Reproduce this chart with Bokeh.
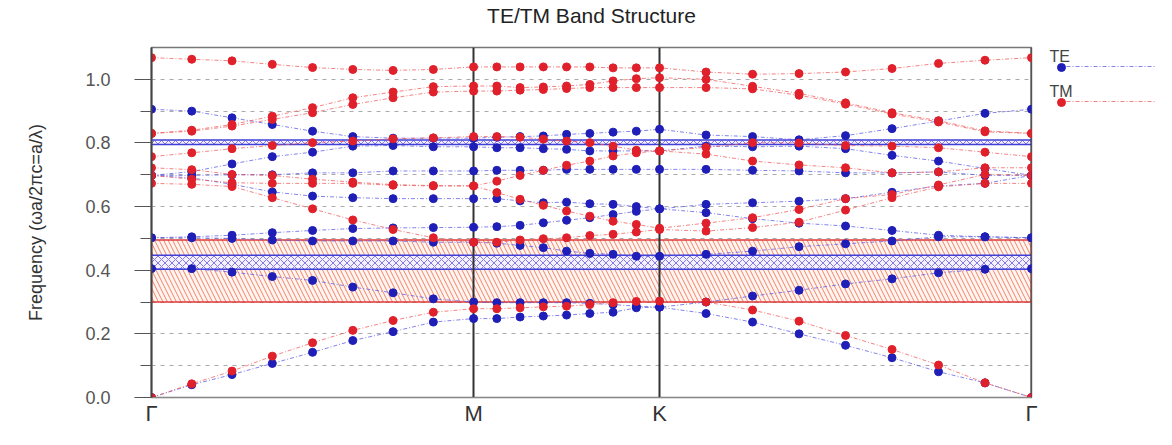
import numpy as np
from bokeh.plotting import figure
from bokeh.layouts import row
from bokeh.models import FixedTicker, Legend, LegendItem, Label, LinearAxis
from bokeh.embed import file_html
from bokeh.resources import INLINE

# ---------------- data ----------------
sym_labels = ["Γ", "M", "K", "Γ"]
sym_pos = [0.0, 1 / np.sqrt(3), 1 / np.sqrt(3) + 1 / 3, 1 / np.sqrt(3) + 1.0]
steps_per_segment = 8

te_bands = [
    [0.000, 0.040, 0.072, 0.107, 0.142, 0.179, 0.207, 0.237, 0.248,
     0.248, 0.253, 0.256, 0.259, 0.264, 0.268, 0.282, 0.284,
     0.264, 0.237, 0.200, 0.164, 0.125, 0.081, 0.046, 0.000],
    [0.405, 0.405, 0.394, 0.380, 0.368, 0.347, 0.329, 0.310, 0.300,
     0.298, 0.298, 0.298, 0.298, 0.296, 0.292, 0.287, 0.284,
     0.300, 0.319, 0.337, 0.357, 0.373, 0.392, 0.403, 0.405],
    [0.502, 0.502, 0.500, 0.495, 0.492, 0.492, 0.492, 0.488, 0.488,
     0.485, 0.478, 0.471, 0.460, 0.453, 0.450, 0.444, 0.444,
     0.450, 0.460, 0.474, 0.483, 0.492, 0.505, 0.505, 0.502],
    [0.502, 0.505, 0.510, 0.518, 0.525, 0.531, 0.533, 0.534, 0.535,
     0.537, 0.541, 0.549, 0.557, 0.565, 0.575, 0.585, 0.593,
     0.581, 0.562, 0.548, 0.539, 0.525, 0.510, 0.505, 0.502],
    [0.698, 0.690, 0.670, 0.646, 0.633, 0.628, 0.625, 0.625, 0.625,
     0.625, 0.618, 0.612, 0.614, 0.609, 0.607, 0.600, 0.593,
     0.607, 0.612, 0.617, 0.625, 0.645, 0.665, 0.673, 0.698],
    [0.698, 0.698, 0.700, 0.700, 0.706, 0.706, 0.712, 0.712, 0.712,
     0.714, 0.714, 0.714, 0.717, 0.717, 0.717, 0.717, 0.717,
     0.717, 0.714, 0.712, 0.706, 0.706, 0.709, 0.698, 0.698],
    [0.698, 0.710, 0.734, 0.757, 0.771, 0.790, 0.792, 0.788, 0.788,
     0.785, 0.785, 0.782, 0.780, 0.775, 0.775, 0.775, 0.775,
     0.790, 0.788, 0.790, 0.782, 0.761, 0.743, 0.720, 0.698],
    [0.906, 0.900, 0.879, 0.858, 0.837, 0.820, 0.815, 0.815, 0.815,
     0.818, 0.820, 0.822, 0.827, 0.830, 0.834, 0.837, 0.843,
     0.825, 0.820, 0.810, 0.823, 0.845, 0.869, 0.893, 0.906],
]

tm_bands = [
    [0.000, 0.043, 0.083, 0.130, 0.172, 0.211, 0.242, 0.268, 0.279,
     0.279, 0.282, 0.285, 0.287, 0.292, 0.298, 0.302, 0.303,
     0.300, 0.275, 0.240, 0.195, 0.151, 0.102, 0.046, 0.000],
    [0.673, 0.670, 0.663, 0.628, 0.593, 0.558, 0.528, 0.502, 0.488,
     0.488, 0.495, 0.499, 0.502, 0.509, 0.513, 0.520, 0.528,
     0.523, 0.534, 0.551, 0.589, 0.628, 0.662, 0.673, 0.673],
    [0.698, 0.686, 0.675, 0.673, 0.673, 0.673, 0.667, 0.665, 0.665,
     0.644, 0.623, 0.604, 0.586, 0.570, 0.554, 0.544, 0.532,
     0.548, 0.565, 0.591, 0.625, 0.638, 0.668, 0.701, 0.698],
    [0.722, 0.716, 0.701, 0.698, 0.686, 0.677, 0.669, 0.666, 0.665,
     0.680, 0.698, 0.714, 0.730, 0.743, 0.759, 0.769, 0.775,
     0.765, 0.743, 0.731, 0.722, 0.706, 0.709, 0.722, 0.722],
    [0.757, 0.769, 0.782, 0.792, 0.801, 0.806, 0.813, 0.816, 0.820,
     0.820, 0.818, 0.812, 0.806, 0.801, 0.790, 0.777, 0.775,
     0.786, 0.801, 0.800, 0.792, 0.790, 0.785, 0.771, 0.757],
    [0.830, 0.837, 0.853, 0.874, 0.895, 0.921, 0.942, 0.960, 0.963,
     0.963, 0.966, 0.968, 0.971, 0.974, 0.974, 0.974, 0.974,
     0.974, 0.970, 0.950, 0.922, 0.891, 0.866, 0.835, 0.830],
    [0.830, 0.840, 0.858, 0.884, 0.911, 0.942, 0.960, 0.977, 0.979,
     0.979, 0.974, 0.976, 0.979, 0.984, 0.995, 1.002, 1.005,
     1.000, 0.978, 0.956, 0.926, 0.895, 0.870, 0.838, 0.830],
    [1.068, 1.063, 1.058, 1.047, 1.037, 1.031, 1.028, 1.031, 1.039,
     1.039, 1.039, 1.039, 1.039, 1.039, 1.036, 1.036, 1.036,
     1.023, 1.016, 1.018, 1.023, 1.034, 1.050, 1.060, 1.068],
]

tm_gap = [0.300, 0.495]
te_gaps_bottom = [0.403, 0.795]
te_gaps_top = [0.447, 0.809]

y_major_ticks = [0.0, 0.2, 0.4, 0.6, 0.8, 1.0]
y_minor_ticks = [0.1, 0.3, 0.5, 0.7, 0.9]
y_grid_ticks = [0.1, 0.2, 0.3, 0.4, 0.5, 0.6, 0.7, 0.8, 0.9, 1.0]
series_names = ["TE", "TM"]

# k-path positions
kx = np.concatenate(
    [np.linspace(sym_pos[i], sym_pos[i + 1], steps_per_segment + 1)[:-1] for i in range(3)]
    + [[sym_pos[-1]]]
)

TE_LINE = "#5a5ae6"
TE_DOT = "#1f1fb8"
TM_LINE = "#f05a5a"
TM_DOT = "#e0202a"
FONT = "Liberation Sans"
LINE_STYLE = dict(line_width=1, line_dash="4 2 1 2", line_alpha=0.75)

p = figure(
    width=1040, height=429,
    x_range=(sym_pos[0], sym_pos[-1]), y_range=(0, 1.1),
    output_backend="svg", toolbar_location=None,
    min_border_left=151, min_border_right=9,
    min_border_top=47, min_border_bottom=32,
    title="TE/TM Band Structure",
)
p.title.align = "center"
p.title.vertical_align = "bottom"
p.title.text_font = FONT
p.title.text_font_size = "21px"
p.title.text_font_style = "normal"
p.title.text_color = "#222222"
p.title.standoff = 0

p.outline_line_color = "#777777"
p.outline_line_width = 1.5
p.background_fill_color = "white"
p.border_fill_color = "white"

# grid
p.xgrid.visible = False
p.ygrid.ticker = FixedTicker(ticks=y_grid_ticks)
p.ygrid.grid_line_color = "#aaaaaa"
p.ygrid.grid_line_dash = "4 5"
p.ygrid.grid_line_width = 1

# y axis
yax = p.left[0]
yax.ticker = FixedTicker(ticks=y_major_ticks, minor_ticks=y_minor_ticks)
yax.major_label_overrides = {t: f"{t:.1f}" for t in y_major_ticks}
yax.axis_label = "Frequency (ωa/2πc=a/λ)"
yax.axis_label_text_font = FONT
yax.axis_label_text_font_size = "18px"
yax.axis_label_text_font_style = "normal"
yax.axis_label_text_color = "#333333"
yax.axis_label_standoff = 36
yax.major_label_text_font = FONT
yax.major_label_text_font_size = "18px"
yax.major_label_text_color = "#555555"
yax.major_label_standoff = 24
yax.major_tick_out = 17
yax.major_tick_in = 0
yax.minor_tick_out = 11
yax.minor_tick_in = 0
yax.axis_line_color = "#444444"
yax.axis_line_width = 2
yax.major_tick_line_color = "#555555"
yax.minor_tick_line_color = "#555555"

# x axis (bottom)
xax = p.below[0]
xax.ticker = FixedTicker(ticks=sym_pos)
xax.major_label_overrides = {pos: lab for pos, lab in zip(sym_pos, sym_labels)}
xax.major_label_text_font = FONT
xax.major_label_text_font_size = "22px"
xax.major_label_text_color = "#333333"
xax.major_label_standoff = 3
xax.major_tick_out = 0
xax.major_tick_in = 0
xax.minor_tick_out = 0
xax.minor_tick_in = 0
xax.major_tick_line_color = None
xax.minor_tick_line_color = None
xax.axis_line_color = "#888888"

# invisible spacer between title and frame so the title sits near the top edge
spacer = LinearAxis(ticker=FixedTicker(ticks=[sym_pos[0]]),
                    major_label_overrides={sym_pos[0]: ""},
                    major_tick_out=21, major_tick_in=0,
                    minor_tick_out=0, minor_tick_in=0, major_label_standoff=0,
                    axis_line_color=None, major_tick_line_color=None,
                    minor_tick_line_color=None)
p.add_layout(spacer, "above")

# band gaps
p.quad(left=[kx[0]], right=[kx[-1]], bottom=[tm_gap[0]], top=[tm_gap[1]],
       fill_color="#fff4f0", fill_alpha=1.0,
       hatch_pattern="left_diagonal_line", hatch_color="#f08468",
       hatch_scale=9, hatch_weight=1.0,
       line_color="#e03a3a", line_width=1.5)
p.quad(left=[kx[0]] * len(te_gaps_bottom), right=[kx[-1]] * len(te_gaps_bottom),
       bottom=te_gaps_bottom, top=te_gaps_top,
       fill_color="#f3f0ff", fill_alpha=1.0,
       hatch_pattern="diagonal_cross", hatch_color="#7a6ae0",
       hatch_scale=7, hatch_weight=0.9,
       line_color="#4040d8", line_width=1.5)

# high symmetry vertical lines
p.vspan(x=sym_pos[1:], line_color="#333333", line_width=2)

# bands
for b in te_bands:
    p.line(kx, b, line_color=TE_LINE, **LINE_STYLE)
for b in tm_bands:
    p.line(kx, b, line_color=TM_LINE, **LINE_STYLE)
for b in te_bands:
    p.scatter(kx, b, marker="circle", size=8, fill_color=TE_DOT, line_color=TE_DOT)
for b in tm_bands:
    p.scatter(kx, b, marker="circle", size=8, fill_color=TM_DOT, line_color=TM_DOT)

# ---------------- legend panel (separate small figure, frame aligned with p) ----------------
# its ranges lie beyond the k-path, so the sample renderers draw nothing in view;
# they only supply the legend glyph styles
lg = figure(width=116, height=429,
            x_range=(sym_pos[-1] + 1, sym_pos[-1] + 2), y_range=(0, 1.1),
            output_backend="svg", toolbar_location=None,
            x_axis_type=None, y_axis_type=None,
            min_border_left=0, min_border_right=0,
            min_border_top=47, min_border_bottom=32)
lg.outline_line_color = None
lg.xgrid.visible = False
lg.ygrid.visible = False
lg.background_fill_color = "white"
lg.border_fill_color = "white"

series = [(te_bands[0], TE_LINE, TE_DOT), (tm_bands[0], TM_LINE, TM_DOT)]
line_items, dot_items = [], []
for name, (band, lc, dc) in zip(series_names, series):
    lr = lg.line(kx, band, line_color=lc, **LINE_STYLE)
    dr = lg.scatter(kx, band, marker="circle", size=8, fill_color=dc, line_color=dc)
    line_items.append(LegendItem(label=" ", renderers=[lr]))
    dot_items.append(LegendItem(label=" ", renderers=[dr]))

common = dict(background_fill_alpha=0, border_line_alpha=0, padding=0, margin=0,
              label_text_font_size="6px", label_width=0, label_standoff=0)
lg.add_layout(Legend(items=line_items, location=(17, 290), glyph_width=100,
                     glyph_height=12, label_height=12, spacing=23, **common))
lg.add_layout(Legend(items=dot_items, location=(11, 285), glyph_width=20,
                     glyph_height=20, label_height=20, spacing=15, **common))

for name, yy in zip(series_names, [341, 306]):
    lg.add_layout(Label(x=9, y=yy, x_units="screen", y_units="screen", text=name,
                        text_font=FONT, text_font_size="16px", text_color="#444444",
                        text_baseline="middle", text_align="left"))

open("out.html", "w").write(file_html(row(p, lg), INLINE))
